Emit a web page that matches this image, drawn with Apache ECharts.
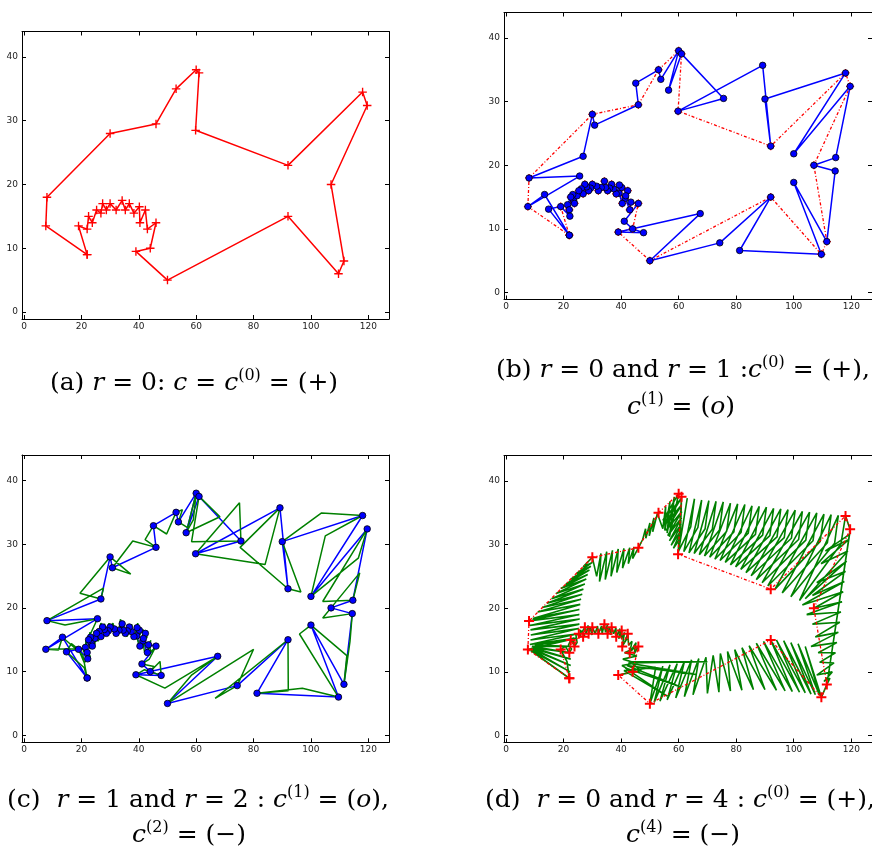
<!DOCTYPE html>
<html>
<head>
<meta charset="utf-8">
<script src="https://cdn.jsdelivr.net/npm/echarts@6/dist/echarts.min.js"></script>
<style>
html,body{margin:0;padding:0;background:#fff;}
#chart{width:872px;height:862px;}
</style>
</head>
<body>
<div id="chart"></div>
<script>
// Tick positions shared by the four panels
const xTicks = [0, 20, 40, 60, 80, 100, 120];
const yTicks = [0, 10, 20, 30, 40];

// r = 0 : the initial contour c(0), closed through its first point
const contourR0 = [
  [22,9],[7.6,13.5],[8,18],[30,28],[46,29.5],[53,35],[60,38],[61,37.5],[59.8,28.5],
  [92,23],[118,34.5],[119.6,32.4],[107,20],[111.5,8],[109.6,6],[92,15],[50,5],[39,9.5],
  [44,10],[46,14],[43,13],[42.3,16],[40.4,14],[40.2,16.5],[38.3,15.5],[36.7,17],[35.3,16],
  [34.2,17.5],[32.1,16],[30,17],[28.7,16],[27.4,17],[26.8,15.5],[25.3,16],[23.8,14],
  [22.5,15],[22,13],[19,13.5]
];

// r = 1 : one new point between each pair of consecutive c(0) points
const insertedR1 = [
  [13.4,15.4],[25.6,18.3],[26.8,21.4],[30.8,26.3],[45.1,32.9],[53.8,33.5],[56.5,31.8],
  [75.6,30.5],[89.2,35.7],[90,30.4],[100,21.8],[114.6,21.2],[114.4,19.1],[100,17.3],
  [81.2,6.6],[74.3,7.8],[67.5,12.4],[47.8,9.4],[41.1,11.2],[43.4,14.2],[41.4,14.8],
  [41.6,15.2],[39.3,15.6],[39.4,16.9],[37.4,16.3],[36,16.4],[34.6,16.5],[33.1,16.5],
  [31.5,16.7],[29.4,16.4],[28,16.6],[26.2,16.3],[24.7,15.2],[23.5,14.4],[23.2,15.4],
  [21.4,13.8],[22.2,12],[14.8,13.1]
];

// r = 2 : one new point between each pair of consecutive c(1) points
const insertedR2 = [
  [20.5,12.6],[12,13.4],[20.8,13.6],[14.3,17.3],[27.7,23.1],[19.5,22.3],[37.2,25.3],
  [37.9,30.5],[42.2,30.7],[49.7,31.6],[55.2,35.4],[57,32.6],[59,33.8],[68.3,34.3],
  [58.4,30.4],[75.1,36.5],[84,26.8],[75.3,29.5],[96.5,22.5],[103.7,34.9],[105,31.3],
  [116.5,27.8],[104.1,21],[117,25.5],[104.1,18.4],[113.6,14.7],[112.5,12.5],[96,15.9],
  [97,7.4],[92.1,7],[66.6,5.8],[80,13.5],[58.5,9.5],[49.1,7.4],[42,10.3],[47.4,11.6],
  [45.3,10.8],[43.6,11.9],[44.4,13.1],[44.2,14.9],[42,13.1],[42.9,15.4],[41.5,16.6],
  [41.9,14.3],[39.8,14.6],[40.6,15.9],[39.6,17.6],[38.8,15.9],[37.8,15.1],[37.6,17.4],
  [36.6,16.2],[35.8,15.5],[34.8,15.6],[35,17.6],[33.6,18.2],[32.8,15.7],[31.6,15.6],
  [31,17.6],[29.6,17.6],[29.2,15.6],[28.2,15.6],[28.1,17.5],[26.8,17.6],[25.7,15.6],
  [25.8,14.8],[24.4,16.3],[24.6,14.2],[22.9,13.6],[24.2,15.3],[23,16.2],[21.6,14.9],
  [20.6,13.2],[23.1,12.4],[21,11.4],[16.5,14.4],[21,10.6]
];

// r = 4 : the refined contour c(4), in drawing order
const contourR4 = [
  // lower jaw corner
  [22,9],[8.5,13.4],[22.3,10],[9,13.5],[22.5,11],[8.8,13.7],[22.5,12],[9.5,13.8],[22.2,13],
  [9,14],[21.8,14],[10,14.2],[21.2,15],[7.6,13.5],
  // snout
  [24.5,15.3],[8.3,14.3],[25,16],[8.5,15],[25.3,16.8],[8.6,15.8],[25.5,17.5],[8.5,16.6],
  [25.6,18.3],[8.3,17.3],[25.5,19],[8,18],
  // head
  [25.5,19.8],[9.3,18.4],[25.8,20.6],[11,19.4],[26.1,21.4],[12.6,20.1],[26.5,22.2],[14.2,20.8],
  [26.9,23],[15.8,21.5],[27.4,23.8],[17.4,22.3],[27.9,24.6],[19,23.1],[28.4,25.3],[20.8,23.8],
  [29,26],[22.6,24.6],[29.5,26.6],[24.6,25.5],[30,27.2],[26.8,26.5],[30,28],
  // back before the fin
  [31.5,25],[33,28.6],[32.5,24.2],[35,28.9],[34.5,24.5],[37,29.1],[36.5,25],[39,29.3],
  [38.5,25.6],[41,29.4],[40.5,26.3],[43,29.5],[42.5,27],[44.5,29.6],[44,27.8],[46,29.5],
  // dorsal fin
  [47.5,30.8],[48.5,32.5],[48.6,31],[50,33.4],[49.8,31.4],[51.4,34.2],[51,32],[52.6,34.9],[53,35],
  [54.5,32.5],[55.5,36],[55.2,32.2],[57,36.8],[56,31.8],[58.5,37.5],[56.8,31.2],[60,38],
  [54.5,33.8],[60.8,37.2],[55,33],[61,36.2],[55.6,32.2],[61.1,35.2],[56.2,31.4],[61,34.2],
  [56.8,30.6],[60.9,33.2],[57.4,29.9],[60.8,32.2],[58.2,29.4],[60.6,31],[61,37.5],[59.8,28.5],
  // back towards the tail
  [63,37.3],[60,29],[64.2,32.8],[65.5,37.2],[61.8,28.9],[66.7,32.7],[68,37],[63.6,28.7],[69.2,32.5],
  [70.5,36.9],[65.4,28.6],[71.7,32.4],[73,36.8],[67.2,28.4],[74.2,32.3],[75.5,36.7],[69,28.2],[76.7,32.1],
  [78,36.5],[70.8,28],[79.2,32],[80.5,36.4],[72.6,27.7],[81.7,31.9],[83,36.3],[74.4,27.5],[84.2,31.8],
  [85.5,36.1],[76.2,27.2],[86.7,31.6],[88,36],[78,26.8],[89.2,31.5],[90.5,35.9],[79.8,26.5],[91.7,31.4],
  [93,35.7],[81.6,26.1],[94.2,31.2],[95.5,35.6],[83.4,25.6],[96.7,31.1],[98,35.5],[85.2,25.1],[99.2,31],
  [100.5,35.4],[87,24.5],[101.7,30.8],[103,35.2],[89,24],[104.2,30.7],[105.5,35.1],[91,23.5],[106.7,30.6],
  [108,35],[93.5,23],[109.2,30.5],[110.5,34.8],[96,22.4],[111.7,30.3],[113,34.7],[99,21.8],[114.2,30.2],
  [115.5,34.6],[102,21.2],[116.4,30.1],[118,34.5],
  // tail
  [119.6,32.4],[111.8,8.8],[119.4,31.6],[111,29],[119.2,30.8],[109.5,27],[118.8,29],[104,21.5],
  [118.4,27.4],[108,24],[118,25.8],[106.5,22],[117.6,24.2],[103,20.5],[117.2,22.6],[107,20],
  [116.8,21],[104.5,19],[116.4,19.4],[106.5,17.5],[116,17.8],[107.5,15.5],[115.5,16.2],[106,14],
  [115,14.6],[108.5,13],[114.5,13],[109,11.5],[114,11.4],[108,9.5],[113.4,10],[110.5,8.5],
  [112.6,9],[111.5,8],
  // belly
  [109.6,6],[104,14],[109,6.3],[101.5,14.4],[107.5,6.4],[99,14.6],[106,6.5],[96.5,14.9],[104,6.7],
  [94,15],[102,6.8],[92,15],[99.5,6.9],[89.5,14.8],[97,7],[87,14.5],[94,7.1],[84.5,14.1],[90,7.2],
  [82,13.8],[86,7.2],[79.5,13.5],[82,7.1],[77,13.2],[78,7],[74.5,12.9],[74,6.8],[72,12.6],[70,6.6],
  [69.5,12.3],[65,6.4],[67,12.1],[62,6.1],[64.5,11.9],[59,5.9],[62,11.6],[56,5.6],[59.5,11.3],
  [53.5,5.4],[57,11.1],[51.5,5.2],[54.5,10.9],[50,5],[52,10.7],
  // jaw
  [41,10.2],[56,6.2],[41.5,10.6],[61,7.6],[42,11],[66,9.6],[42.5,11.4],[70,11.6],[43,11.6],
  [47,10.2],[39,9.5],
  [44,10],[40.3,11],[45,11.4],[40.6,12],[45.5,12.5],[41.2,13],[46,14],
  // teeth
  [44.5,12.8],[45.2,14.6],[43,13],[43.8,14.8],[42.6,14.2],[42.3,16],[41.2,14.6],[42,15.2],
  [40.4,14],[41.2,16.2],[40.1,15.2],[40.2,16.5],[39.2,15.2],[39.6,16.8],[38.3,15.5],[38.2,16.9],
  [37.4,16],[36.7,17],[36.4,15.8],[35.9,16.9],[35.3,16],[35.2,17.4],[34.6,16.2],[34.2,17.5],
  [33.4,16],[33.2,17.2],[32.1,16],[31.8,17.2],[31,16],[30,17],[29.9,15.8],[29.2,17],[28.7,16],
  [28.5,17.3],[27.8,16],[27.4,17],[26.6,16.4],[27.4,15.6],[26.8,15.5],[25.8,16.6],[25.9,15.4],
  [25.3,16],[24.3,15.8],[24.7,14.6],[23.8,14],[23.3,15.4],[23.6,14.3],[22.5,15],[21.7,14.2],
  [22.8,13.6],[22,13],[20.6,14],[19,13.5],[21.2,11.6],[22,9]
];

// Refining a closed contour: keep its points and put the new ones between them
function refine(points, inserted) {
  const out = [];
  for (let i = 0; i < points.length; i++) {
    out.push(points[i]);
    out.push(inserted[i]);
  }
  out.push(points[0]);
  return out;
}
const closedR0 = contourR0.concat([contourR0[0]]);
const closedR1 = refine(contourR0, insertedR1);
const closedR2 = refine(closedR1.slice(0, closedR1.length - 1), insertedR2);

const PLUS = 'path://M0,4.2L10,4.2L10,5.8L0,5.8Z M4.2,0L5.8,0L5.8,10L4.2,10Z';
const PLUS_BOLD = 'path://M0,4L10,4L10,6L0,6Z M4,0L6,0L6,10L4,10Z';
const RED = '#ff0000', BLUE = '#0000ff', GREEN = '#008000';
const TICKFONT = 'DejaVu Sans';

const grids = [
  { left: 22,  top: 31.5, width: 367, height: 287.5 },
  { left: 504, top: 12.5, width: 368, height: 287 },
  { left: 22,  top: 455,  width: 367, height: 287.3 },
  { left: 504, top: 455.5, width: 368, height: 287 }
];

function xAxisFor(gi, pos) {
  return {
    type: 'value', gridIndex: gi, position: pos, min: -0.7, max: 127.2,
    splitLine: { show: false },
    axisLine: { show: true, onZero: false, lineStyle: { color: '#000', width: 1 } },
    axisTick: { show: true, inside: true, length: 4, customValues: xTicks, lineStyle: { color: '#000', width: 1 } },
    axisLabel: { show: pos === 'bottom', customValues: xTicks, fontSize: 9, color: '#222',
                 fontFamily: TICKFONT, margin: 3 }
  };
}
function yAxisFor(gi, pos) {
  return {
    type: 'value', gridIndex: gi, position: pos, min: -1.1, max: 44,
    splitLine: { show: false },
    axisLine: { show: true, onZero: false, lineStyle: { color: '#000', width: 1 } },
    axisTick: { show: true, inside: true, length: 4, customValues: yTicks, lineStyle: { color: '#000', width: 1 } },
    axisLabel: { show: pos === 'left', customValues: yTicks, fontSize: 9, color: '#222',
                 fontFamily: TICKFONT, margin: 4 }
  };
}

const xAxes = [], yAxes = [];
for (let g = 0; g < 4; g++) {
  xAxes.push(xAxisFor(g, 'bottom'));
  yAxes.push(yAxisFor(g, 'left'));
}
for (let g = 0; g < 4; g++) {
  xAxes.push(xAxisFor(g, 'top'));
  yAxes.push(yAxisFor(g, 'right'));
}

function lineSeries(g, data, opts) {
  return Object.assign({
    type: 'line', xAxisIndex: g, yAxisIndex: g, data: data,
    animation: false, silent: true, clip: true
  }, opts);
}

const series = [
  // (a) r = 0
  lineSeries(0, closedR0, {
    lineStyle: { color: RED, width: 1.5 }, itemStyle: { color: RED },
    symbol: PLUS, symbolSize: 8.5, showSymbol: true
  }),
  // (b) r = 0 and r = 1
  lineSeries(1, closedR0, {
    lineStyle: { color: RED, width: 1.3, type: [3, 2, 1, 2] }, itemStyle: { color: RED },
    symbol: PLUS, symbolSize: 8, showSymbol: true
  }),
  lineSeries(1, closedR1, {
    lineStyle: { color: BLUE, width: 1.5 },
    itemStyle: { color: BLUE, borderColor: '#000', borderWidth: 0.8 },
    symbol: 'circle', symbolSize: 6.5, showSymbol: true
  }),
  // (c) r = 1 and r = 2
  lineSeries(2, closedR1, {
    lineStyle: { color: BLUE, width: 1.5 },
    itemStyle: { color: BLUE, borderColor: '#000', borderWidth: 0.8 },
    symbol: 'circle', symbolSize: 6.5, showSymbol: true
  }),
  lineSeries(2, closedR2, {
    lineStyle: { color: GREEN, width: 1.5 }, symbol: 'none', showSymbol: false
  }),
  // (d) r = 0 and r = 4
  lineSeries(3, contourR4, {
    lineStyle: { color: GREEN, width: 1.6 }, symbol: 'none', showSymbol: false
  }),
  lineSeries(3, closedR0, {
    lineStyle: { color: RED, width: 1.3, type: [3, 2, 1, 2] }, itemStyle: { color: RED },
    symbol: PLUS_BOLD, symbolSize: 10, showSymbol: true
  })
];

// Captions under each panel
const CAPFONT = 'DejaVu Serif';
const rich = {
  t: { fontFamily: CAPFONT, fontSize: 25, lineHeight: 32, color: '#000' },
  i: { fontFamily: CAPFONT, fontSize: 25, lineHeight: 32, fontStyle: 'italic', color: '#000' },
  s: { fontFamily: CAPFONT, fontSize: 16, lineHeight: 18, padding: [0, 0, 14, 0], color: '#000' }
};
function caption(x, y, text) {
  return { type: 'text', x: x, y: y, style: { text: text, rich: rich, align: 'center', verticalAlign: 'middle' }, silent: true };
}
const graphics = [
  caption(194, 383, '{t|(a) }{i|r}{t| = 0: }{i|c}{t| = }{i|c}{s|(0)}{t| = (+)}'),
  caption(683, 370, '{t|(b) }{i|r}{t| = 0 and }{i|r}{t| = 1 :}{i|c}{s|(0)}{t| = (+),}'),
  caption(681, 407, '{i|c}{s|(1)}{t| = (}{i|o}{t|)}'),
  caption(198, 800, '{t|(c)  }{i|r}{t| = 1 and }{i|r}{t| = 2 : }{i|c}{s|(1)}{t| = (}{i|o}{t|),}'),
  caption(189, 835, '{i|c}{s|(2)}{t| = (−)}'),
  caption(680, 800, '{t|(d)  }{i|r}{t| = 0 and }{i|r}{t| = 4 : }{i|c}{s|(0)}{t| = (+),}'),
  caption(683, 835, '{i|c}{s|(4)}{t| = (−)}')
];

const chart = echarts.init(document.getElementById('chart'), null, { renderer: 'canvas' });
chart.setOption({
  backgroundColor: '#fff',
  animation: false,
  grid: grids,
  xAxis: xAxes,
  yAxis: yAxes,
  series: series,
  graphic: graphics
});
</script>
</body>
</html>
